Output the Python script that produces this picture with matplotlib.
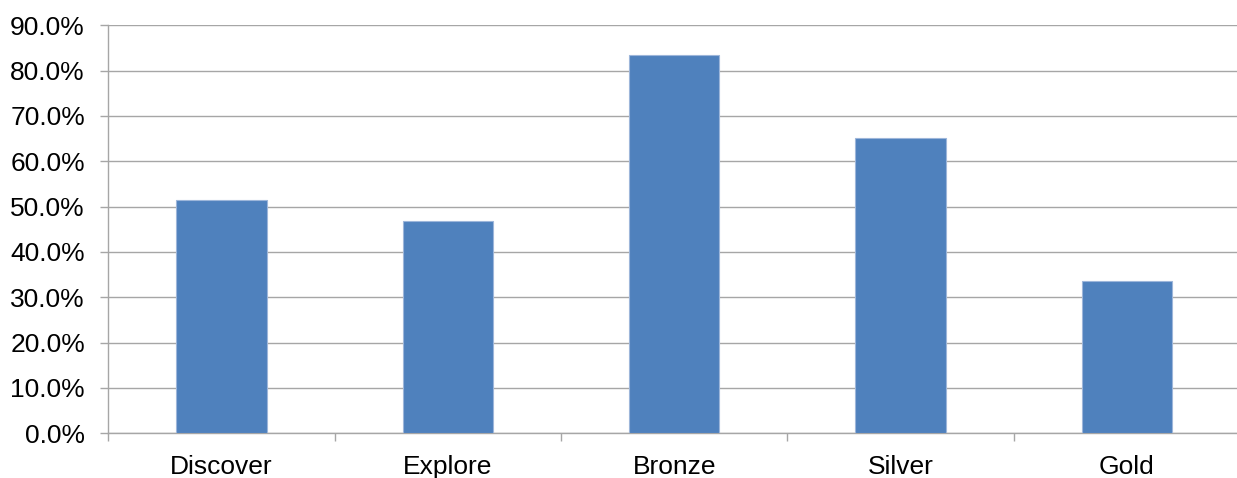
import matplotlib
matplotlib.use("Agg")
import matplotlib.pyplot as plt
from matplotlib.ticker import FuncFormatter, FixedLocator

categories = ["Discover", "Explore", "Bronze", "Silver", "Gold"]
values = [51.5, 46.9, 83.4, 65.1, 33.7]
yticks = [0, 10, 20, 30, 40, 50, 60, 70, 80, 90]

plt.rcParams['font.family'] = ['Liberation Sans', 'DejaVu Sans']

W, H = 1237, 478
fig = plt.figure(figsize=(W / 100, H / 100), dpi=100)
left = 108.3 / W
right = 1240.0 / W
bottom = (H - 433.3) / H
top = (H - 25.3) / H
ax = fig.add_axes([left, bottom, right - left, top - bottom])

x = list(range(len(categories)))
ax.bar(x, values, width=0.4, color='#4F81BD', edgecolor='#9DB6DA', linewidth=0.8, zorder=3)

ax.set_xlim(-0.5, len(categories) - 0.5)
ax.set_ylim(0, 90)
ax.set_yticks(yticks)
ax.yaxis.set_major_formatter(FuncFormatter(lambda v, p: f"{v:.1f}%"))
ax.yaxis.grid(True, color='#A6A6A6', linewidth=1.0, zorder=0)
ax.set_axisbelow(True)

ax.set_xticks(x)
ax.set_xticklabels(categories)
ax.xaxis.set_minor_locator(FixedLocator([i - 0.5 for i in range(len(categories) + 1)]))
ax.tick_params(axis='x', which='major', length=0, pad=15.5, labelsize=19, colors='black')
ax.tick_params(axis='x', which='minor', length=5.8, width=1.0, color='#A6A6A6')
ax.tick_params(axis='y', which='major', length=5.8, width=1.0, color='#A6A6A6', pad=11, labelsize=19, labelcolor='black')

for s in ['top', 'right']:
    ax.spines[s].set_visible(False)
for s in ['left', 'bottom']:
    ax.spines[s].set_color('#A6A6A6')
    ax.spines[s].set_linewidth(1.0)

fig.savefig("out.png", dpi=100)
